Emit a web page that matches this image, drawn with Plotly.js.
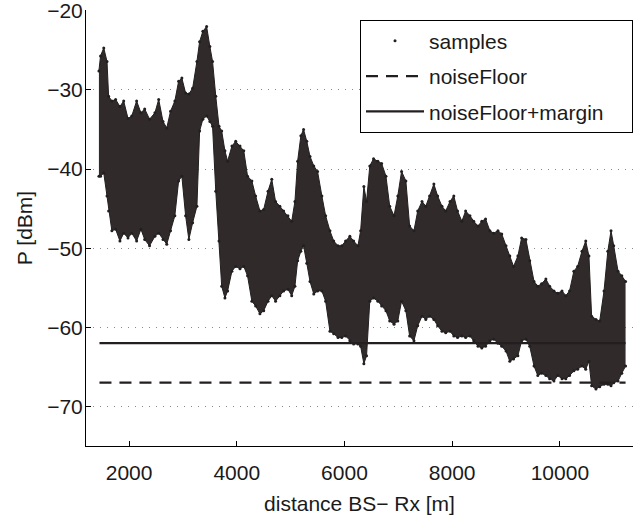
<!DOCTYPE html>
<html><head><meta charset="utf-8">
<script src="https://cdn.plot.ly/plotly-3.0.1.min.js"></script>
<style>html,body{margin:0;padding:0;background:#fff}</style>
</head><body><div id="chart" style="width:633px;height:516px"></div>
<script>
// distance BS-Rx [m] at which the sample cloud's envelope was read
const distance = [1440,1470,1530,1590,1620,1680,1750,1830,1900,1980,2050,2140,2220,2290,2380,2480,2550,2630,2700,2770,2850,2920,2980,3050,3110,3180,3260,3310,3370,3440,3500,3550,3610,3670,3720,3780,3830,3910,3980,4060,4130,4200,4280,4350,4430,4500,4580,4650,4720,4800,4870,4950,5020,5080,5130,5190,5240,5300,5360,5430,5500,5580,5650,5730,5800,5880,5950,6020,6100,6170,6250,6300,6360,6410,6470,6540,6620,6690,6770,6840,6920,6990,7060,7140,7210,7290,7360,7440,7510,7580,7660,7730,7810,7880,7960,8030,8100,8180,8250,8330,8400,8480,8550,8620,8700,8770,8850,8920,9000,9070,9140,9220,9290,9370,9440,9520,9590,9660,9740,9810,9890,9960,10040,10110,10180,10260,10330,10410,10480,10540,10590,10670,10740,10820,10890,10950,11000,11080,11150,11220];
// upper edge of the samples [dBm]
const pUpper = [-27.6,-25.7,-24.7,-26.4,-30.8,-31.4,-31.2,-32.1,-31.4,-33.6,-33.3,-31.4,-32.9,-32.4,-33.7,-32.9,-31.2,-34.0,-34.8,-32.7,-31.4,-28.9,-28.5,-30.4,-30.5,-29.8,-26.4,-23.9,-22.6,-22.0,-24.5,-26.4,-30.8,-34.6,-35.2,-37.7,-39.0,-37.1,-36.5,-37.1,-37.7,-40.9,-41.5,-43.4,-45.3,-45.1,-42.8,-41.3,-44.1,-44.7,-45.3,-45.9,-46.6,-44.1,-39.0,-35.8,-35.0,-36.5,-38.4,-39.6,-40.3,-43.4,-45.9,-47.8,-49.1,-49.7,-49.7,-49.1,-48.5,-49.1,-49.7,-47.8,-42.2,-44.1,-39.6,-38.7,-39.0,-39.3,-40.9,-44.7,-45.9,-43.4,-40.3,-41.5,-47.2,-47.8,-45.3,-44.1,-44.7,-43.4,-41.9,-43.4,-44.7,-45.3,-44.1,-43.4,-45.3,-46.6,-45.3,-45.9,-46.6,-47.2,-46.6,-46.3,-47.8,-48.1,-47.8,-48.2,-49.7,-51.0,-52.3,-51.0,-48.7,-48.9,-51.6,-54.2,-54.8,-54.5,-53.9,-54.8,-55.4,-55.7,-55.4,-56.0,-55.4,-52.9,-52.3,-50.4,-49.1,-51.0,-58.6,-59.0,-59.2,-55.4,-50.4,-47.8,-49.7,-52.9,-53.5,-54.2];
// lower edge of the samples [dBm]
const pLower = [-40.9,-40.9,-40.5,-43.4,-45.3,-47.8,-47.6,-49.1,-48.1,-48.7,-48.1,-49.1,-47.6,-48.9,-49.7,-48.5,-48.1,-48.9,-49.5,-47.8,-45.9,-41.5,-40.9,-45.9,-48.9,-46.8,-44.7,-35.2,-33.7,-33.3,-34.0,-34.6,-42.8,-49.1,-54.8,-56.3,-55.4,-52.9,-52.3,-52.6,-52.3,-53.5,-56.7,-57.3,-58.3,-57.9,-56.7,-56.0,-56.7,-56.0,-55.4,-55.2,-56.0,-54.8,-51.6,-50.4,-49.7,-51.9,-54.2,-55.8,-55.4,-55.4,-56.7,-60.5,-60.8,-61.3,-61.3,-61.1,-61.7,-62.1,-62.1,-62.4,-64.6,-63.6,-56.7,-56.3,-56.7,-57.3,-57.9,-59.2,-59.6,-59.2,-56.7,-57.9,-61.1,-61.7,-59.8,-58.6,-59.0,-58.6,-59.0,-59.8,-60.5,-60.7,-60.5,-61.1,-61.3,-61.1,-61.3,-61.1,-61.7,-62.4,-62.6,-62.4,-61.7,-61.5,-62.0,-62.4,-63.0,-64.3,-64.0,-63.6,-61.7,-61.5,-62.4,-64.9,-66.1,-65.8,-66.1,-66.5,-66.8,-66.1,-66.5,-66.5,-66.1,-65.5,-65.3,-64.9,-65.3,-64.3,-67.4,-67.8,-67.5,-67.2,-67.2,-67.4,-67.0,-66.8,-65.8,-64.9];
const floorDistance = [1450, 11220];
const noiseFloor = [-67, -67];
const noiseFloorMargin = [-62, -62];
const xTickVals = [2000, 4000, 6000, 8000, 10000];
const xTickText = ['2000', '4000', '6000', '8000', '10000'];
const yTickVals = [-70, -60, -50, -40, -30, -20];
const yTickText = ['\u221270', '\u221260', '\u221250', '\u221240', '\u221230', '\u221220'];

const ink = '#231f20';
const font = {family: '"Liberation Sans", Arial, Helvetica, sans-serif', size: 21, color: '#1a1a1a'};
const pad = '\u00a0\u00a0\u00a0\u00a0';

const traces = [
  {x: distance, y: pLower, type: 'scatter', mode: 'lines', line: {color: ink, width: 1}, showlegend: false, hoverinfo: 'skip'},
  {x: distance, y: pUpper, type: 'scatter', mode: 'lines', line: {color: ink, width: 1}, fill: 'tonexty', fillcolor: '#302a2a', showlegend: false, hoverinfo: 'skip'},
  {x: distance.concat(distance), y: pUpper.concat(pLower), type: 'scatter', mode: 'markers', name: 'samples' + pad, marker: {color: ink, size: 3}, legendgroup: 'a'},
  {x: floorDistance, y: noiseFloor, type: 'scatter', mode: 'lines', name: 'noiseFloor' + pad, line: {color: ink, width: 2.2, dash: '12px,8px'}, legendgroup: 'b'},
  {x: floorDistance, y: noiseFloorMargin, type: 'scatter', mode: 'lines', name: 'noiseFloor+margin' + pad, line: {color: ink, width: 2.2}, legendgroup: 'c'}
];

const layout = {
  width: 633, height: 516,
  margin: {l: 86, r: 0, t: 10, b: 70},
  paper_bgcolor: '#fff', plot_bgcolor: '#fff',
  font: font,
  showlegend: true,
  legend: {x: 1, xanchor: 'right', y: 0.978, yanchor: 'top', bgcolor: '#fff', bordercolor: '#000', borderwidth: 1,
           font: font, itemwidth: 58, traceorder: 'grouped', tracegroupgap: 5},
  xaxis: {range: [1200, 11358], tickvals: xTickVals, ticktext: xTickText, ticks: 'inside', ticklen: 5, tickcolor: '#000',
          showline: true, linecolor: '#000', linewidth: 1, showgrid: false, zeroline: false,
          tickfont: font, ticklabelstandoff: 8,
          title: {text: 'distance BS\u2212 Rx [m]', font: font, standoff: 13}},
  yaxis: {range: [-75, -19.9], tickvals: yTickVals, ticktext: yTickText, ticks: 'inside', ticklen: 5, tickcolor: '#000',
          showline: true, linecolor: '#000', linewidth: 1, showgrid: true, gridcolor: '#8a8a8a', gridwidth: 1,
          griddash: '1px,6px', zeroline: false, tickfont: font, ticklabelstandoff: -2, ticklabeloverflow: 'allow',
          title: {text: 'P [dBm]', font: font, standoff: 8}}
};

Plotly.newPlot('chart', traces, layout, {displayModeBar: false, staticPlot: true});
</script>
</body></html>
